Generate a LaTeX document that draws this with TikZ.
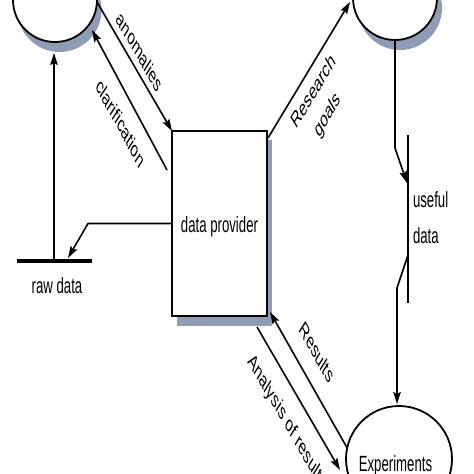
\documentclass[tikz,border=0pt]{standalone}
\usepackage{fontspec}
\setmainfont{Liberation Sans}
\usetikzlibrary{arrows.meta}
\definecolor{shade}{RGB}{143,156,182}
\begin{document}
\begin{tikzpicture}[x=1bp,y=-1bp,
  every node/.style={inner sep=0pt, outer sep=0pt},
  lbl/.style={font=\fontsize{22bp}{35bp}\selectfont, xscale=0.6},
  conn/.style={line width=1.6bp},
  arr/.style={conn, -{Stealth[length=12bp,width=7.5bp,inset=2bp]}},
  store/.style={draw, fill=white, line width=1.8bp},
  shadowfill/.style={fill=shade, draw=none}]
\useasboundingbox (0,0) rectangle (474,474);
\clip (0,0) rectangle (474,474);
% shadows
\fill[shadowfill] (59.5,10) circle (42);
\fill[shadowfill] (400,8) circle (42);
\fill[shadowfill] (177,140) rectangle (272,326);
% processes
\node[store, circle, minimum size=84bp] (tl) at (55,0) {};
\node[store, circle, minimum size=84bp] (tr) at (395,-2) {};
\node[store, minimum width=95bp, minimum height=185bp] (dp) at (219.5,223.5) {};
\node[lbl, anchor=base] (dplabel) at (219.5,233) {data provider};
% data stores
\coordinate (rawL) at (17,261);
\coordinate (rawR) at (92,261);
\draw[line width=3.5bp] (rawL) -- (rawR);
\node[lbl, anchor=base] (rawlabel) at (57,293) {raw data};
\coordinate (useT) at (408,135);
\coordinate (useB) at (408,303);
\draw[line width=2.5bp] (useT) -- (useB);
\node[lbl, anchor=base west, align=left] (uselabel) at (413,243) {useful\\data};
% connector points
\coordinate (anomS) at (97,2);
\coordinate (clarS) at (167,170);
\coordinate (clarE) at (92,30);
\coordinate (rawUp) at (54,261);
\coordinate (tlBot) at (54,53);
\coordinate (bendL) at (88,223.5);
\coordinate (rawTip) at (68,258);
\coordinate (resS) at (268,138);
\coordinate (resE) at (350,2);
\coordinate (trBot) at (395,40);
\coordinate (bendR) at (395,148);
\coordinate (useTip) at (407,183);
\coordinate (useOut) at (408,255);
\coordinate (bendE) at (397,288);
\coordinate (expTop) at (397,404);
\coordinate (rsltS) at (350,453);
\coordinate (rsltE) at (270,312);
\coordinate (anaS) at (257,327);
\coordinate (anaE) at (340,470);
% connectors
\draw[arr] (anomS) -- (dp.north west);
\draw[arr] (clarS) -- (clarE);
\draw[arr] (rawUp) -- (tlBot);
\draw[arr] (dp.west) -- (bendL) -- (rawTip);
\draw[arr] (resS) -- (resE);
\draw[arr] (trBot) -- (bendR) -- (useTip);
\draw[arr] (useOut) -- (bendE) -- (expTop);
\draw[arr] (rsltS) -- (rsltE);
\draw[arr] (anaS) -- (anaE);
% experiments
\node[store, circle, minimum size=106bp] (exp) at (399,459) {};
\node[lbl, anchor=base] (explabel) at (395.5,471) {Experiments};
% labels
\node[lbl, rotate=-46.7] (anomlabel) at (140,52) {anomalies};
\node[lbl, rotate=-48] (clarlabel) at (121,123) {clarification};
\node[lbl, rotate=45, align=center, font=\fontsize{22bp}{33bp}\selectfont] (reslabel) at (321,104) {Research\\goals};
\node[lbl, rotate=-46.6] (rsltlabel) at (317,352) {Results};
\node[lbl, rotate=-46] (analabel) at (287,422) {Analysis of results};
\end{tikzpicture}
\end{document}
